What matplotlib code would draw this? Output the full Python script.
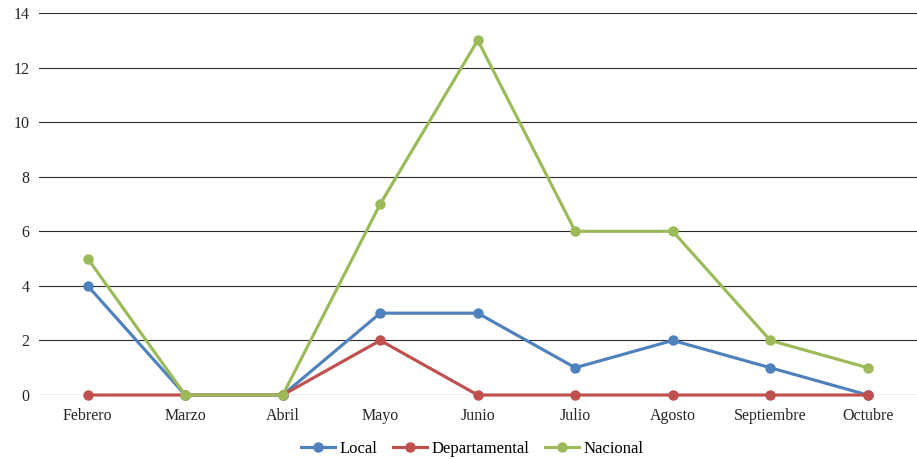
import matplotlib.pyplot as plt

plt.rcParams['font.family'] = ['Liberation Serif', 'DejaVu Serif']

meses = ["Febrero", "Marzo", "Abril", "Mayo", "Junio", "Julio", "Agosto", "Septiembre", "Octubre"]
local = [4, 0, 0, 3, 3, 1, 2, 1, 0]
departamental = [0, 0, 0, 2, 0, 0, 0, 0, 0]
nacional = [5, 0, 0, 7, 13, 6, 6, 2, 1]

fig = plt.figure(figsize=(9.17, 4.59), dpi=100)
ax = fig.add_axes([0.0425, 0.1394, 0.957, 0.8323])

x = range(len(meses))
ax.plot(x, local, color='#4F81BD', lw=2.25, marker='o', ms=6.5, label='Local', zorder=3, clip_on=False)
ax.plot(x, departamental, color='#C0504D', lw=2.25, marker='o', ms=6.5, label='Departamental', zorder=3, clip_on=False)
ax.plot(x, nacional, color='#9BBB59', lw=2.25, marker='o', ms=6.5, label='Nacional', zorder=3, clip_on=False)

ax.set_xlim(-0.5, len(meses) - 0.5)
ax.set_ylim(0, 14)
ax.set_yticks(range(0, 15, 2))
ax.set_xticks(list(x))
ax.set_xticklabels(meses)
ax.grid(axis='y', color='#2b2b2b', lw=0.8)
ax.set_axisbelow(True)
for s in ax.spines.values():
    s.set_visible(False)
ax.axhline(0, color='#8c8c8c', lw=0.8, zorder=1)
ax.tick_params(length=0, labelsize=11.5, colors='#262626')
ax.tick_params(axis='x', pad=9)
ax.tick_params(axis='y', pad=7)

fig.legend(loc='lower center', bbox_to_anchor=(0.515, -0.028), ncol=3, frameon=False,
           fontsize=12, handlelength=2.05, handletextpad=0.3, columnspacing=0.9)

fig.savefig("out.png", dpi=100)
